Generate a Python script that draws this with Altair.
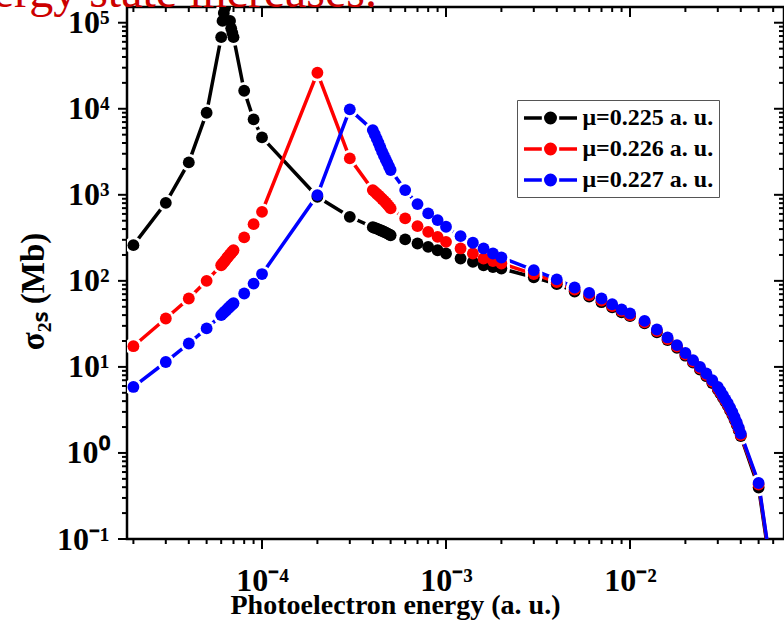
import altair as alt
import pandas as pd

# ---------------- data ----------------
series_names = ["μ=0.225 a. u.", "μ=0.226 a. u.", "μ=0.227 a. u."]
series_colors = ["#000000", "#ff0000", "#0000ff"]

energy = [
    2e-5, 3e-5, 4e-5, 5e-5,
    6.0e-5, 6.1e-5, 6.2e-5, 6.3e-5, 6.4e-5, 6.5e-5, 6.6e-5, 6.7e-5, 6.8e-5, 6.9e-5, 7.0e-5,
    8e-5, 9e-5, 1e-4, 2e-4, 3e-4,
    4.0e-4, 4.1e-4, 4.2e-4, 4.3e-4, 4.4e-4, 4.5e-4, 4.6e-4, 4.7e-4, 4.8e-4, 4.9e-4, 5.0e-4,
    6e-4, 7e-4, 8e-4, 9e-4, 1e-3,
    1.2e-3, 1.4e-3, 1.6e-3, 1.8e-3, 2e-3,
    3e-3, 4e-3, 5e-3, 6e-3, 7e-3, 8e-3, 9e-3, 1e-2,
    1.2e-2, 1.4e-2, 1.6e-2, 1.8e-2, 2.0e-2, 2.2e-2, 2.4e-2, 2.6e-2, 2.8e-2,
    3.0e-2, 3.1e-2, 3.2e-2, 3.3e-2, 3.4e-2, 3.5e-2, 3.6e-2, 3.7e-2, 3.8e-2, 3.9e-2, 4.0e-2,
    5e-2, 6e-2,
]

sigma_0225 = [
    260, 807, 2380, 8980,
    68000, 105000, 130000, 150000, 200000, 260000, 180000, 105000, 86000, 76000, 68000,
    16200, 7530, 4650, 948, 555,
    421, 412, 404, 396, 388, 380, 372, 364, 356, 347, 339,
    303, 272, 248, 227, 208,
    182, 166, 152, 145, 139,
    110, 91.6, 75.3, 65.5, 56.5, 49.4, 43.2, 38.9,
    32.0, 25.3, 20.5, 16.7, 13.5, 11.2, 9.3, 7.8, 6.5,
    5.45, 4.9, 4.37, 3.92, 3.52, 3.12, 2.78, 2.43, 2.13, 1.84, 1.57,
    0.396, 0.028,
]

sigma_0226 = [
    17.4, 36.5, 62.4, 100,
    152, 158, 165, 172, 180, 188, 195, 203, 211, 219, 227,
    320, 456, 634, 26200, 2650,
    1135, 1080, 1030, 985, 940, 895, 855, 815, 775, 735, 695,
    532, 432, 371, 325, 284,
    238, 208, 182, 170, 159,
    120, 96.6, 79, 68.3, 58.9, 50.8, 44.7, 39.9,
    33.0, 26.1, 21.1, 17.2, 13.9, 11.5, 9.6, 8.05, 6.72,
    5.6, 5.05, 4.5, 4.03, 3.63, 3.22, 2.86, 2.5, 2.19, 1.89, 1.61,
    0.43, 0.030,
]

sigma_0227 = [
    5.85, 11.4, 18.7, 28,
    40, 41.3, 42.7, 44.2, 45.7, 47.2, 48.7, 50.2, 51.8, 53.4, 55,
    71.3, 93, 120, 993, 9840,
    5650, 5050, 4500, 4000, 3550, 3150, 2850, 2580, 2350, 2130, 1940,
    1135, 780, 608, 508, 425,
    331, 277, 238, 208, 187,
    133, 104, 83.7, 72.4, 62.4, 53.5, 46.5, 41.8,
    34.3, 27.2, 22, 17.9, 14.5, 12.0, 10.0, 8.38, 7.0,
    5.85, 5.25, 4.69, 4.2, 3.78, 3.35, 2.98, 2.6, 2.28, 1.97, 1.68,
    0.448, 0.031,
]

x_major_ticks = [1e-4, 1e-3, 1e-2]
x_minor_ticks = [m * 10.0 ** e for e in (-5, -4, -3, -2) for m in range(2, 10)
                 if 1.9e-5 < m * 10.0 ** e < 6.5e-2]
y_major_ticks = [10.0 ** e for e in range(-1, 6)]
y_minor_ticks = [m * 10.0 ** e for e in range(-1, 5) for m in range(2, 10)]

top_note = "the energy state increases."
x_title = "Photoelectron energy (a. u.)"
y_title = "σ₂ₛ (Mb)"

# ---------------- layout ----------------
W, H = 657, 532
X_DOMAIN = [1.846e-5, 0.0687]
Y_DOMAIN = [0.1, 1.523e5]
FONT = "Liberation Serif"

rows = []
for name, vals in zip(series_names, [sigma_0225, sigma_0226, sigma_0227]):
    for e, s in zip(energy, vals):
        rows.append({"e": e, "s": s, "series": name})
df = pd.DataFrame(rows)

xs = alt.Scale(type="log", domain=X_DOMAIN, nice=False)
ys = alt.Scale(type="log", domain=Y_DOMAIN, nice=False)
cs = alt.Scale(domain=series_names, range=series_colors)

LABEL_EXPR = ("'10' + replace(replace(replace(replace(replace(replace(replace("
              "'' + round(log(datum.value)/log(10)), '-', '⁻'), '0', '⁰'), '1', '¹'), "
              "'2', '²'), '3', '³'), '4', '⁴'), '5', '⁵')")

x_axis = alt.Axis(values=x_major_ticks, labelExpr=LABEL_EXPR, ticks=False, tickSize=0,
                  domain=False, grid=False, labelFont=FONT, labelFontWeight="bold",
                  labelFontSize=32, labelColor="black", labelBaseline="alphabetic",
                  labelPadding=51, labelFlush=False, labelOverlap=False,
                  title=x_title, titleFont=FONT, titleFontWeight="bold", titleFontSize=28,
                  titleColor="black", titleX=268, titleY=74, titleAlign="center",
                  titleBaseline="alphabetic")
y_axis = alt.Axis(values=y_major_ticks, labelExpr=LABEL_EXPR, ticks=False, tickSize=0,
                  domain=False, grid=False, labelFont=FONT, labelFontWeight="bold",
                  labelFontSize=32, labelColor="black", labelAlign="right",
                  labelBaseline="middle", labelPadding=18, labelFlush=False,
                  labelOverlap=False,
                  title=y_title, titleFont=FONT, titleFontWeight="bold", titleFontSize=33,
                  titleColor="black", titleX=-84, titleY=284, titleAngle=270,
                  titleAlign="center", titleBaseline="alphabetic")

# legend symbol: line - gap - dot - gap - line (unit = sqrt(size)/2 px)
SYMBOL_PATH = ("M-2.41,0L-0.79,0M0.79,0L2.41,0"
               "M-0.43,0A0.43,0.43,0,1,1,0.43,0A0.43,0.43,0,1,1,-0.43,0Z")
legend = alt.Legend(title=None, orient="none", legendX=390, legendY=93,
                    symbolType=SYMBOL_PATH, symbolSize=484, symbolStrokeWidth=3.5,
                    symbolOffset=15.5, labelOffset=19,
                    labelFont=FONT, labelFontSize=24, labelFontWeight="bold",
                    labelColor="black", rowPadding=6, padding=5,
                    strokeColor="#555555", fillColor="white", labelLimit=400,
                    symbolOpacity=1)

x_enc = alt.X("e:Q", scale=xs, axis=x_axis)
y_enc = alt.Y("s:Q", scale=ys, axis=y_axis)

base = alt.Chart(df)
lines = base.mark_line(strokeWidth=3.5, clip=True).encode(
    x=x_enc, y=y_enc, stroke=alt.Stroke("series:N", scale=cs, legend=legend),
    detail="series:N")
halos = base.mark_circle(size=300, color="white", opacity=1, clip=True).encode(
    x=x_enc, y=y_enc)
points = base.mark_circle(size=140, opacity=1, clip=True).encode(
    x=x_enc, y=y_enc, fill=alt.Fill("series:N", scale=cs, legend=legend))


def x_ticks(vals, y0, y1):
    return alt.Chart(pd.DataFrame({"e": vals})).mark_rule(color="black", strokeWidth=2).encode(
        x=x_enc, y=alt.value(y0), y2=alt.value(y1))


def y_ticks(vals, x0, x1):
    return alt.Chart(pd.DataFrame({"s": vals})).mark_rule(color="black", strokeWidth=2).encode(
        y=y_enc, x=alt.value(x0), x2=alt.value(x1))


ticks = [
    x_ticks(x_major_ticks, H, H + 10), x_ticks(x_minor_ticks, H, H + 5),
    x_ticks(x_major_ticks, 0, 10), x_ticks(x_minor_ticks, 0, 5),
    y_ticks(y_major_ticks, 0, -9), y_ticks(y_minor_ticks, 0, -5),
    y_ticks(y_major_ticks, W, W - 10), y_ticks(y_minor_ticks, W, W - 5),
]

note = alt.Chart(pd.DataFrame({"t": [top_note]})).mark_text(
    font=FONT, fontSize=48, color="#cc0000", align="right", baseline="alphabetic"
).encode(x=alt.value(250), y=alt.value(0), text="t:N")

chart = alt.layer(lines, halos, points, *ticks, note).properties(
    width=W, height=H,
    padding={"left": 127, "top": 7, "right": 0, "bottom": 85},
    autosize=alt.AutoSizeParams(type="none"),
    background="white",
).configure_view(stroke="black", strokeWidth=2.5)

chart.save("out.html", embed_options={"renderer": "svg", "actions": False})
